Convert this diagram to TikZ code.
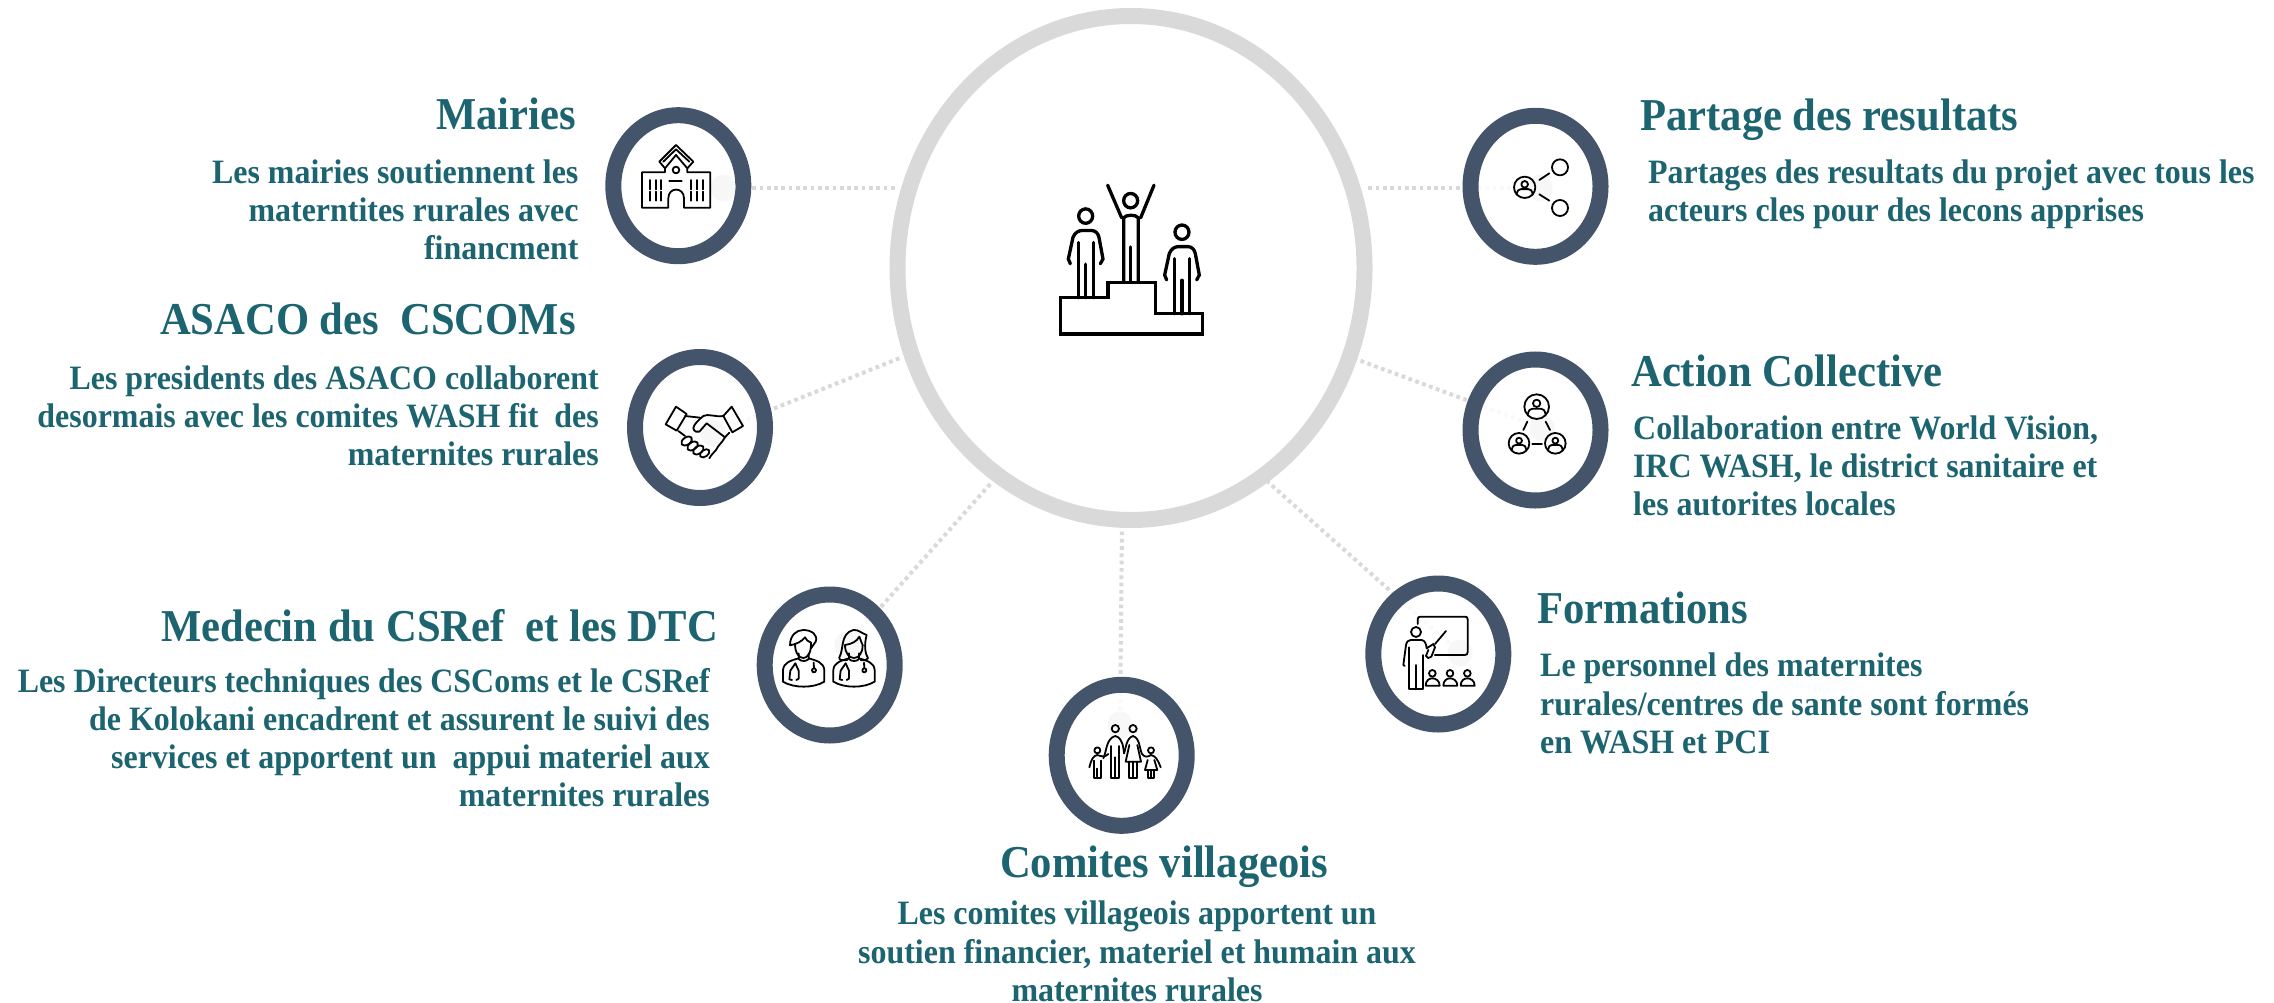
\documentclass[tikz,border=0pt]{standalone}
\usepackage{fontspec}
\setmainfont[FakeStretch=0.935]{Liberation Serif}
\usetikzlibrary{shapes.geometric,backgrounds}
\definecolor{teal1}{HTML}{1B6470}
\definecolor{ringblue}{HTML}{44546A}
\definecolor{hubgray}{HTML}{D9D9D9}
\definecolor{ghost}{HTML}{F7F7F7}
\tikzset{
  hubring/.style={ellipse,draw=hubgray,line width=16pt,fill=white,minimum width=467pt,minimum height=504pt,inner sep=0pt},
  smallring/.style={ellipse,draw=ringblue,line width=16pt,fill=white,fill opacity=.85,draw opacity=1,minimum width=130pt,minimum height=141pt,inner sep=0pt},
  ghostspot/.style={ellipse,fill=ghost,minimum width=25pt,minimum height=27pt,inner sep=0pt},
  link/.style={hubgray,line width=4pt,dash pattern=on 3.7pt off 3.6pt},
  titletext/.style={text=teal1,inner sep=0pt,font=\fontsize{45.6}{50}\selectfont\bfseries},
  bodytext/.style={text=teal1,inner sep=0pt,font=\fontsize{34.15}{38.2}\selectfont\bfseries},
  icon/.style={line width=1.8pt,line cap=round,line join=round,draw=black},
  bigicon/.style={line width=3.3pt,line cap=round,line join=miter,draw=black},
  pics/stander/.style={code={
    \draw[bigicon] (0,-47) circle[x radius=21,y radius=21];
    \draw[bigicon] (-46,92) -- (-52,78) -- (-38,15) .. controls (-32,0) and (-20,-5) .. (-10,-5) -- (18,-5) .. controls (30,-5) and (38,5) .. (40,15) -- (52,78) -- (44,92);
    \draw[bigicon] (-22,30) -- (-22,191);
    \draw[bigicon] (23,30) -- (23,191);
    \draw[bigicon] (0,93) -- (0,191);
  }},
  pics/insetperson/.style={code={
    \draw[icon] (0,-10) circle[radius=11];
    \draw[icon] (-27,24) .. controls (-24,10) and (-20,6) .. (-12,6) -- (12,6) .. controls (20,6) and (24,10) .. (27,24);
  }},
  pics/medic/.style={code={
    \draw[icon] (-15,15) .. controls (-40,22) and (-60,28) .. (-62,50) -- (-62,85) .. controls (-30,105) and (30,105) .. (62,85) -- (62,50) .. controls (60,28) and (40,22) .. (15,15);
    \draw[icon] (-15,0) -- (-15,17) .. controls (-8,25) and (8,25) .. (15,17) -- (15,0);
    \draw[icon] (-25,30) -- (-40,52) -- (-43,78) -- (-35,80);
    \draw[icon] (-25,30) -- (-15,52) -- (-15,76) -- (-22,80);
    \draw[icon] (30,28) -- (31,44);
    \draw[icon] (31,51) circle[radius=6];
  }}
}
\begin{document}
\begin{tikzpicture}[x=1pt,y=-1pt]
\useasboundingbox (0,0) rectangle (2274,1003);
% hub and satellites
\node[hubring] (hub) at (1131,268) {};
\node[smallring] (n1) at (678.3,185.7) {};
\node[smallring] (n2) at (700,427.5) {};
\node[smallring] (n3) at (829.7,665) {};
\node[smallring] (n4) at (1121.7,755.3) {};
\node[smallring] (n5) at (1438.3,654) {};
\node[smallring] (n6) at (1535.5,430) {};
\node[smallring] (n7) at (1535.5,186.3) {};
% ghost spots
\node[ghostspot] (g1) at (723,188) {};
\node[ghostspot] (g2) at (713,433) {};
\node[ghostspot] (g3) at (847,645) {};
\node[ghostspot] (g4) at (1120,725) {};
\node[ghostspot] (g5) at (1460,653) {};
\node[ghostspot] (g6) at (1542,428) {};
\node[ghostspot] (g7) at (1540,188) {};
% hub edge points
\coordinate (h1) at (895,188);
\coordinate (h2) at (900,358);
\coordinate (h3) at (992,482);
\coordinate (h4) at (1122,522);
\coordinate (h5) at (1268,482);
\coordinate (h6) at (1357,359.5);
\coordinate (h7) at (1365,188);
\begin{pgfonlayer}{background}
\fill[white] (0,0) rectangle (2274,1003);
\foreach \i in {1,...,7} \draw[link] (g\i.center) -- (h\i);
\end{pgfonlayer}
% texts
\node[titletext,anchor=north east] (t1) at (576,97.5) {Mairies};
\node[bodytext,anchor=north east,align=right] (b1) at (578.6,159.5) {Les mairies soutiennent les\\materntites rurales avec\\financment};
\node[titletext,anchor=north east] (t2) at (576,302.5) {ASACO des\ \ CSCOMs};
\node[bodytext,anchor=north east,align=right] (b2) at (599,365.5) {Les presidents des ASACO collaborent\\desormais avec les comites WASH fit\ \ des\\maternites rurales};
\node[titletext,anchor=north east] (t3) at (718,609.5) {Medecin du CSRef\ \ et les DTC};
\node[bodytext,anchor=north east,align=right] (b3) at (710,668) {Les Directeurs techniques des CSComs et le CSRef\\de Kolokani encadrent et assurent le suivi des\\services et apportent un\ \ appui materiel aux\\maternites rurales};
\node[titletext,anchor=north] (t4) at (1164,845.5) {Comites villageois};
\node[bodytext,anchor=north,align=center] (b4) at (1137,901) {Les comites villageois apportent un\\soutien financier, materiel et humain aux\\maternites rurales};
\node[titletext,anchor=north west] (t5) at (1537,591.5) {Formations};
\node[bodytext,anchor=north west,align=left] (b5) at (1540,653) {Le personnel des maternites\\rurales/centres de sante sont formés\\en WASH et PCI};
\node[titletext,anchor=north west] (t6) at (1631,354.5) {Action Collective};
\node[bodytext,anchor=north west,align=left] (b6) at (1633,415.5) {Collaboration entre World Vision,\\IRC WASH, le district sanitaire et\\les autorites locales};
\node[titletext,anchor=north west] (t7) at (1640,98.5) {Partage des resultats};
\node[bodytext,anchor=north west,align=left] (b7) at (1648,159.5) {Partages des resultats du projet avec tous les\\acteurs cles pour des lecons apprises};
% podium icon
\begin{scope}[shift={(880pt,0pt)},x=0.3333pt,y=-0.343pt]
\draw[bigicon] (542,974) -- (542,868) -- (684,868) -- (684,823) -- (826,823) -- (826,915) -- (968,915) -- (968,974) -- cycle;
\pic at (617,677) {stander};
\pic at (906,724) {stander};
\draw[bigicon] (752,585) circle[radius=21];
\draw[bigicon] (683,540) -- (725,635);
\draw[bigicon] (822,540) -- (782,635);
\draw[bigicon] (731,823) -- (731,635) .. controls (738,625) and (768,625) .. (775,635) -- (775,823);
\draw[bigicon] (752,720) -- (752,823);
\end{scope}
% school icon
\begin{scope}[shift={(580pt,-90pt)},x=0.3333pt,y=-0.3333pt]
\draw[icon] (255,235) -- (255,247) -- (186,247) -- (186,353) -- (265,353) -- (265,325) .. controls (265,290) and (312,290) .. (312,325) -- (312,353) -- (391,353) -- (391,247) -- (322,247) -- (322,235);
\draw[icon] (238,215) -- (288,165) -- (340,215) -- (322,235) -- (288,195) -- (255,235) -- cycle;
\draw[icon] (250,215) -- (288,178) -- (328,215);
\draw[icon] (288,240) circle[radius=10];
\draw[icon,line width=2.2pt] (268,273) -- (305,273);
\foreach \wx in {210,228,243,333,350,368} {
  \draw[icon] (\wx,270) -- (\wx,298);
  \draw[icon] (\wx,305) -- (\wx,332);
}
\end{scope}
% handshake icon
\begin{scope}[shift={(610pt,-330pt)},x=0.3333pt,y=-0.3333pt]
\draw[icon] (198,230) -- (230,252) -- (200,302) -- (167,283) -- cycle;
\draw[icon] (365,230) -- (399,288) -- (367,307) -- (340,258) -- cycle;
\draw[icon] (225,258) -- (270,263);
\draw[icon] (340,258) .. controls (315,262) and (295,250) .. (280,258) .. controls (265,270) and (250,285) .. (250,295) .. controls (252,305) and (262,308) .. (268,305) -- (290,280) -- (345,322) .. controls (335,340) and (325,345) .. (318,360) .. controls (312,368) and (305,372) .. (298,385);
\draw[icon] (345,322) -- (358,308);
\draw[icon] (205,303) -- (225,318);
\draw[icon,rotate around={35:(230,333)}] (230,333) ellipse[x radius=18,y radius=11];
\draw[icon,rotate around={35:(248,348)}] (248,348) ellipse[x radius=18,y radius=11];
\draw[icon,rotate around={35:(265,360)}] (265,360) ellipse[x radius=18,y radius=11];
\draw[icon,rotate around={35:(284,370)}] (284,370) ellipse[x radius=16,y radius=10];
\end{scope}
% doctors icon
\begin{scope}[shift={(740pt,-570pt)},x=0.3333pt,y=-0.3333pt]
\pic at (191,250) {medic};
\pic at (342,250) {medic};
\draw[icon] (165,222) .. controls (165,250) and (178,264) .. (190,264) .. controls (202,264) and (213,250) .. (213,222);
\draw[icon] (150,226) .. controls (150,195) and (170,180) .. (190,180) .. controls (215,180) and (235,195) .. (227,215) -- (213,235) -- (213,218) .. controls (205,215) and (198,210) .. (195,202) .. controls (185,215) and (170,222) .. (150,226) -- cycle;
\draw[icon] (315,225) .. controls (315,250) and (328,264) .. (342,264) .. controls (356,264) and (368,250) .. (368,225);
\draw[icon] (322,270) .. controls (305,272) and (296,270) .. (298,262) .. controls (312,240) and (300,190) .. (340,180) .. controls (355,178) and (365,190) .. (380,195) .. controls (372,225) and (375,250) .. (384,265) .. controls (380,272) and (372,272) .. (362,270);
\draw[icon] (315,225) .. controls (335,222) and (350,215) .. (358,200) .. controls (362,210) and (365,220) .. (368,225);
\end{scope}
% family icon
\begin{scope}[shift={(1040pt,-670pt)},x=0.3333pt,y=-0.3333pt]
\draw[icon] (226,176) circle[radius=11];
\draw[icon] (279,176) circle[radius=11];
\draw[icon] (172,241) circle[radius=9];
\draw[icon] (333,241) circle[radius=9];
\draw[icon] (190,265) .. controls (200,245) and (198,205) .. (226,198) .. controls (250,205) and (250,235) .. (252,250);
\draw[icon] (213,228) -- (213,325) -- (238,325) -- (238,228);
\draw[icon] (226,262) -- (226,325);
\draw[icon] (252,250) .. controls (258,235) and (258,205) .. (279,198) .. controls (300,205) and (298,235) .. (306,252) .. controls (314,262) and (322,262) .. (333,255) .. controls (345,258) and (352,265) .. (362,292);
\draw[icon] (268,225) -- (257,275) -- (303,275) -- (292,225);
\draw[icon] (268,275) -- (268,325) -- (292,325) -- (292,275);
\draw[icon] (279,275) -- (279,325);
\draw[icon] (148,292) .. controls (155,265) and (160,258) .. (172,255) .. controls (185,260) and (195,262) .. (205,252);
\draw[icon] (162,272) -- (162,325) -- (183,325) -- (183,272);
\draw[icon] (172,296) -- (172,325);
\draw[icon] (323,270) -- (315,300) -- (352,300) -- (343,270);
\draw[icon] (323,300) -- (323,325) -- (343,325) -- (343,300);
\draw[icon] (333,300) -- (333,325);
\end{scope}
% teacher icon
\begin{scope}[shift={(1360pt,-560pt)},x=0.3333pt,y=-0.3333pt]
\draw[icon] (173,192) -- (173,178) .. controls (173,172) and (176,170) .. (182,170) -- (315,170) .. controls (320,170) and (323,172) .. (323,178) -- (323,276) .. controls (323,282) and (320,285) .. (315,285) -- (224,285);
\draw[icon] (258,213) -- (225,252);
\draw[icon] (168,216) circle[radius=15];
\draw[icon] (134,318) -- (130,315) -- (138,255) .. controls (140,245) and (145,240) .. (152,240) -- (185,240) .. controls (195,242) and (198,250) .. (200,265) -- (220,252) -- (225,262) -- (214,290) .. controls (208,296) and (200,296) .. (198,288) -- (205,270);
\draw[icon] (148,262) -- (148,388) -- (188,388) -- (188,285);
\draw[icon] (168,315) -- (168,388);
\foreach \sx in {217,270,322} {
  \draw[icon] (\sx,340) circle[radius=10];
  \draw[icon] (\sx-20,377) .. controls (\sx-20,362) and (\sx-10,355) .. (\sx,355) .. controls (\sx+10,355) and (\sx+22,362) .. (\sx+22,377) -- cycle;
}
\end{scope}
% network icon
\begin{scope}[shift={(1450pt,-340pt)},x=0.3333pt,y=-0.3333pt]
\draw[icon] (260,200) circle[radius=37];
\draw[icon] (207,310) circle[radius=31];
\draw[icon] (316,310) circle[radius=31];
\draw[icon] (232,245) -- (220,270);
\draw[icon] (287,245) -- (300,270);
\draw[icon] (247,312) -- (276,312);
\pic at (260,200) {insetperson};
\pic[scale=.8] at (207,310) {insetperson};
\pic[scale=.8] at (316,310) {insetperson};
\end{scope}
% share icon
\begin{scope}[shift={(1450pt,-100pt)},x=0.3333pt,y=-0.3333pt]
\draw[icon] (224,262) circle[radius=32];
\draw[icon] (330,202) circle[radius=24];
\draw[icon] (330,324) circle[radius=24];
\draw[icon] (268,240) -- (298,220);
\draw[icon] (268,283) -- (298,302);
\pic[scale=.9] at (224,262) {insetperson};
\end{scope}
\end{tikzpicture}
\end{document}
